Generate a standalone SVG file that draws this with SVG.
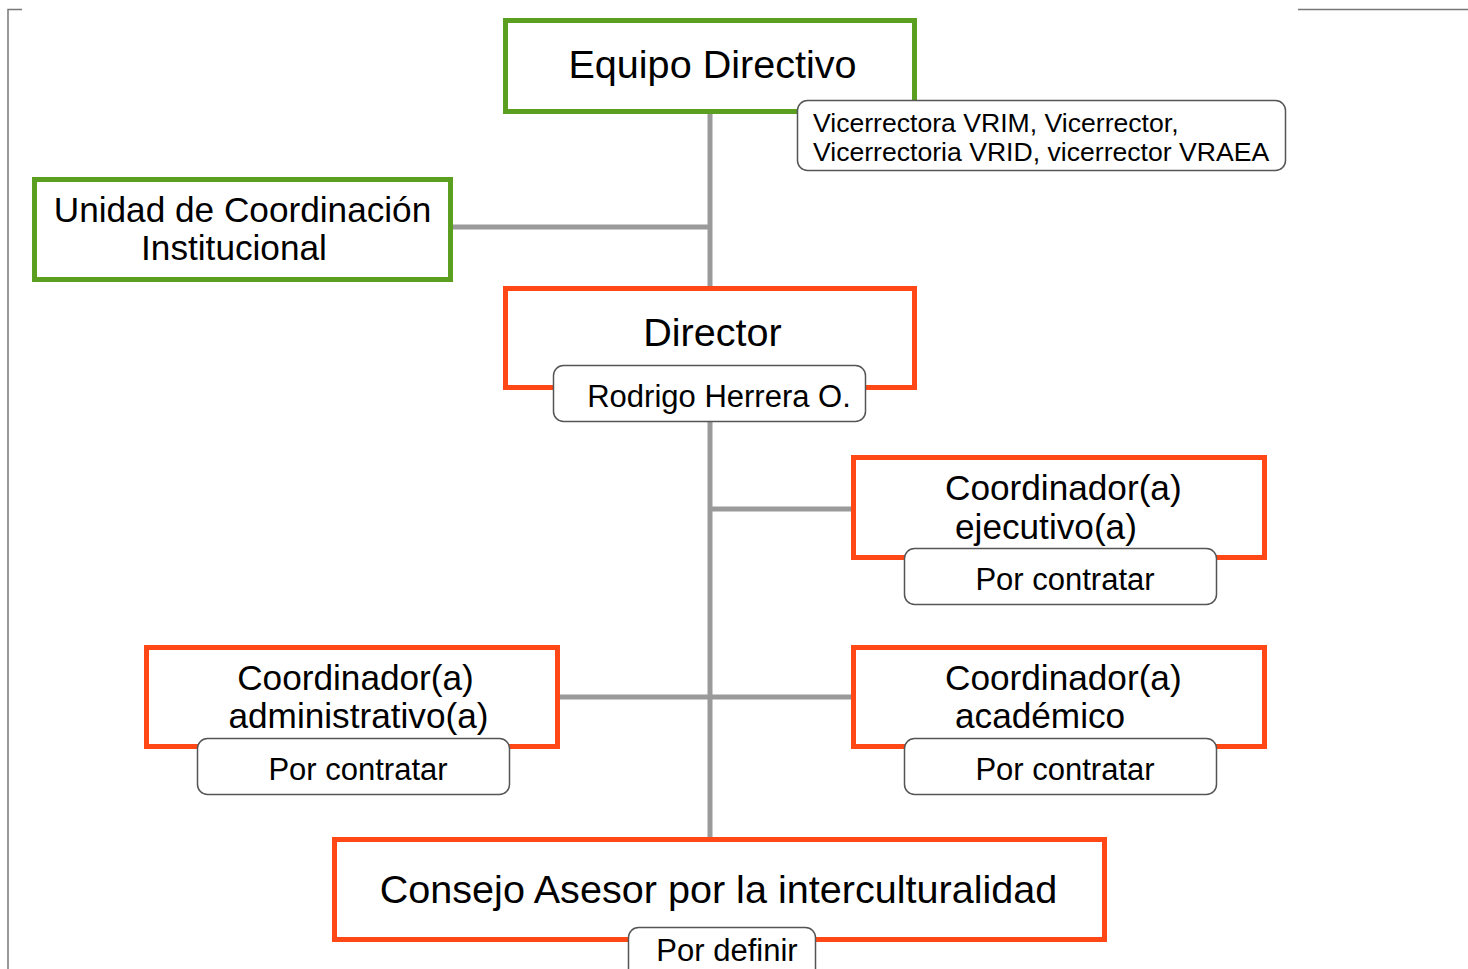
<svg xmlns="http://www.w3.org/2000/svg" width="1468" height="969" viewBox="0 0 1468 969">
<style>
.g{fill:#fff;stroke:#5b9f20;stroke-width:5}
.o{fill:#fff;stroke:#ff4816;stroke-width:5}
.s{fill:#fff;stroke:#555;stroke-width:1.5}
.c{stroke:#9a9a9a;stroke-width:5;fill:none}
text{font-family:"Liberation Sans",Arial,sans-serif;fill:#000}
.b{font-size:39.6px}
.m{font-size:35.2px}
.n{font-size:31px}
.t{font-size:26.6px}
</style>
<rect width="1468" height="969" fill="#fff"/>
<g id="frame" stroke="#777" stroke-width="1.5" fill="none">
<path d="M8 969V9.5H22"/>
<path d="M1298 9.5H1468"/>
</g>
<g id="connectors">
<path class="c" d="M710 112V837"/>
<path class="c" d="M452 227H710"/>
<path class="c" d="M710 509H853"/>
<path class="c" d="M557 697H853"/>
</g>
<g id="equipo">
<rect class="g" x="505.5" y="20.5" width="409" height="91"/>
<text class="b" x="712.5" y="78" text-anchor="middle">Equipo Directivo</text>
</g>
<g id="equipo-sub">
<rect class="s" x="797.5" y="100.5" width="488" height="70" rx="10"/>
<text class="t" x="813" y="132">Vicerrectora VRIM, Vicerrector,</text>
<text class="t" x="813" y="161">Vicerrectoria VRID, vicerrector VRAEA</text>
</g>
<g id="unidad">
<rect class="g" x="34.5" y="179.5" width="416" height="100"/>
<text class="m" x="242.5" y="222" text-anchor="middle">Unidad de Coordinación</text>
<text class="m" x="234" y="260" text-anchor="middle">Institucional</text>
</g>
<g id="director">
<rect class="o" x="505.5" y="288.5" width="409" height="99"/>
<text class="b" x="712.5" y="346" text-anchor="middle">Director</text>
<rect class="s" x="553.5" y="365.5" width="312" height="56" rx="10"/>
<text class="n" x="719" y="407" text-anchor="middle">Rodrigo Herrera O.</text>
</g>
<g id="ejecutivo">
<rect class="o" x="853.5" y="457.5" width="411" height="100"/>
<text class="m" x="945" y="500">Coordinador(a)</text>
<text class="m" x="955" y="539">ejecutivo(a)</text>
<rect class="s" x="904.5" y="548.5" width="312" height="56" rx="10"/>
<text class="n" x="1065" y="590" text-anchor="middle">Por contratar</text>
</g>
<g id="administrativo">
<rect class="o" x="146.5" y="647.5" width="411" height="99"/>
<text class="m" x="355.5" y="690" text-anchor="middle">Coordinador(a)</text>
<text class="m" x="358.5" y="728" text-anchor="middle">administrativo(a)</text>
<rect class="s" x="197.5" y="738.5" width="312" height="56" rx="10"/>
<text class="n" x="358" y="780" text-anchor="middle">Por contratar</text>
</g>
<g id="academico">
<rect class="o" x="853.5" y="647.5" width="411" height="99"/>
<text class="m" x="945" y="690">Coordinador(a)</text>
<text class="m" x="955" y="728">académico</text>
<rect class="s" x="904.5" y="738.5" width="312" height="56" rx="10"/>
<text class="n" x="1065" y="780" text-anchor="middle">Por contratar</text>
</g>
<g id="consejo">
<rect class="o" x="334.5" y="839.5" width="770" height="100"/>
<text class="b" x="718.5" y="903" text-anchor="middle">Consejo Asesor por la interculturalidad</text>
<rect class="s" x="628.5" y="927.5" width="187" height="56" rx="10"/>
<text class="n" x="727" y="961" text-anchor="middle">Por definir</text>
</g>
</svg>
